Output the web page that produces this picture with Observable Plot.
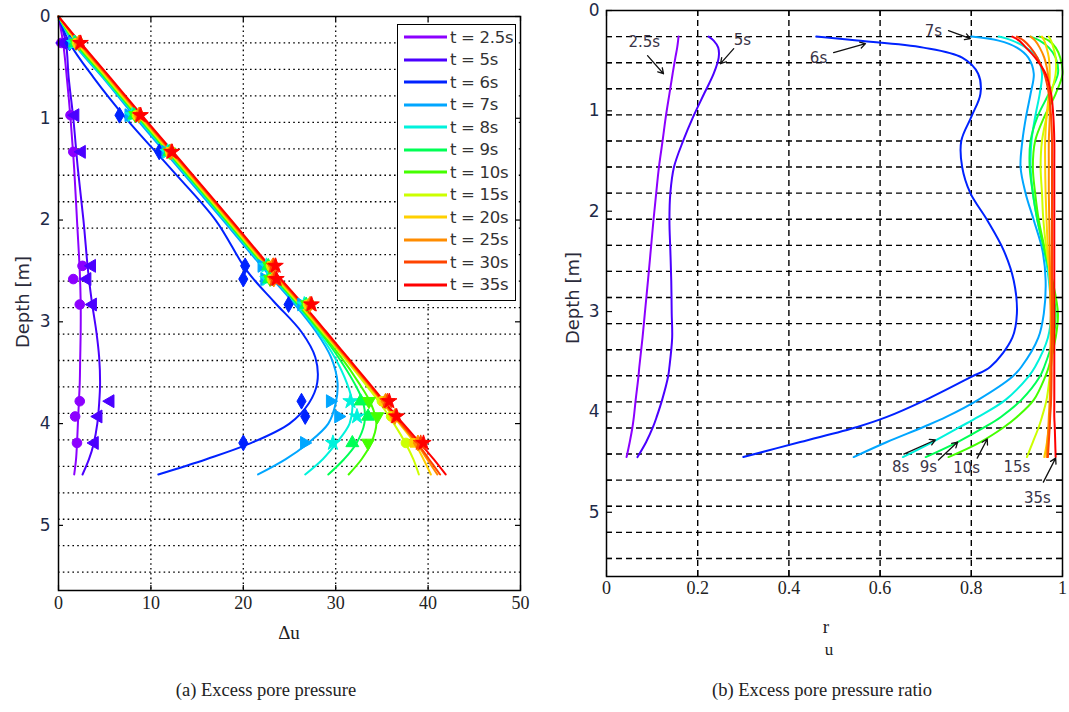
<!DOCTYPE html>
<html><head><meta charset="utf-8">
<script src="https://cdn.jsdelivr.net/npm/d3@7"></script>
<script src="https://cdn.jsdelivr.net/npm/@observablehq/plot@0.6"></script>
<style>
body{margin:0;background:#fff;}
#wrap{position:relative;width:1069px;height:712px;overflow:hidden;background:#fff;}
.abs{position:absolute;white-space:nowrap;}
.c{transform:translate(-50%,-50%);}
.rot{transform:translate(-50%,-50%) rotate(-90deg);}
.serif{font-family:"Liberation Serif",serif;color:#222;}
.sans{font-family:"DejaVu Sans",sans-serif;color:#2a2a3a;}
#legend{position:absolute;left:397px;top:24px;width:119px;height:277px;border:1.5px solid #000;background:#fff;box-sizing:border-box;padding-top:1px;}
#legend .row{height:22.5px;display:flex;align-items:center;font-family:"DejaVu Sans",sans-serif;font-size:16.5px;color:#333;letter-spacing:-0.3px;}
#legend svg{margin-left:6px;margin-right:3px;flex:none;}
</style></head><body><div id="wrap"></div>
<script>
// ---------- series ----------
const seriesNames = ["t = 2.5s","t = 5s","t = 6s","t = 7s","t = 8s","t = 9s","t = 10s","t = 15s","t = 20s","t = 25s","t = 30s","t = 35s"];
const seriesColors = ["#8c00ff","#4b00ff","#0022ff","#00a6ff","#00f2dc","#00ff55","#44ff00","#ccff00","#ffd000","#ff8c00","#ff4400","#ff0000"];
const seriesSymbols = ["circle","triangle","diamond","triangle","star","triangle","triangle","circle","square","diamond","star","star"];
const symbolRotate = [0,-90,0,90,0,0,180,0,0,0,0,0];

// ---------- panel (a): excess pore pressure du vs depth ----------
const duDepth = [0,0.26,0.6,1.0,1.5,2.0,2.5,2.8,3.1,3.35,3.6,3.8,4.0,4.2,4.35,4.5];
const du_2_5 = [0,0.5,0.9,1.3,1.7,2.0,2.3,2.4,2.4,2.35,2.3,2.2,2.1,2.0,1.9,1.7];
const du_5   = [0,0.8,1.1,1.6,2.1,2.7,3.2,3.6,4.1,4.4,4.5,4.4,4.2,3.8,3.3,2.6];
const du_6   = [0,1.2,3.8,7.3,12.2,17.0,20.4,23.3,26.3,27.8,28.0,27.1,25.0,20.6,16.0,10.8];
const du_7   = [0,1.6,4.8,8.4,13.1,17.8,22.4,25.3,27.9,29.5,30.2,30.0,29.2,26.9,24.6,21.6];
const du_8   = [0,1.7,4.9,8.6,13.3,18.0,22.6,25.5,28.1,29.9,31.2,31.8,31.5,30.0,28.6,26.7];
const du_9   = [0,1.8,5.0,8.7,13.4,18.1,22.7,25.6,28.3,30.3,32.0,33.0,33.1,32.2,30.9,29.2];
const du_10  = [0,1.9,5.1,8.8,13.5,18.2,22.8,25.7,28.4,30.6,32.5,33.8,34.4,33.8,32.8,31.4];
const du_15  = [0,2.0,5.2,8.9,13.6,18.3,22.9,25.8,28.6,30.9,33.1,34.8,36.3,37.6,38.4,39.0];
const du_20  = [0,2.1,5.3,9.0,13.7,18.4,23.0,25.9,28.7,31.0,33.3,35.1,36.9,38.6,39.5,40.3];
const du_25  = [0,2.2,5.4,9.1,13.8,18.5,23.1,26.0,28.8,31.1,33.4,35.2,37.0,38.8,39.9,41.0];
const du_30  = [0,2.3,5.5,9.2,13.9,18.6,23.2,26.1,28.9,31.2,33.5,35.3,37.1,38.9,40.1,41.3];
const du_35  = [0,2.4,5.6,9.3,14.0,18.7,23.3,26.2,29.0,31.3,33.6,35.4,37.3,39.2,40.6,41.9];
const duSeries = [du_2_5,du_5,du_6,du_7,du_8,du_9,du_10,du_15,du_20,du_25,du_30,du_35];

// measured points (sensor depths)
const sensorDepth = [0.26,0.97,1.33,2.45,2.58,2.83,3.78,3.93,4.19];
const mk_2_5 = [0.3,1.3,1.6,2.6,1.6,2.3,2.3,1.8,2.0];
const mk_5   = [0.5,1.8,2.5,3.6,3.1,3.7,5.6,4.3,3.9];
const mk_6   = [1.2,6.6,10.9,20.2,20.0,24.9,26.3,26.7,20.0];
const mk_7   = [1.5,7.6,11.6,22.0,22.3,26.3,29.4,30.3,26.6];
const mk_8   = [1.7,8.0,11.8,22.5,22.6,26.6,31.6,32.3,29.7];
const mk_9   = [1.8,8.2,12.0,22.7,22.8,26.8,32.7,33.5,31.8];
const mk_10  = [1.9,8.3,12.0,22.8,22.9,26.9,33.6,34.5,33.5];
const mk_15  = [2.0,8.5,12.1,23.0,23.1,27.0,35.0,36.0,37.6];
const mk_20  = [2.1,8.6,12.1,23.1,23.2,27.1,35.2,36.3,38.5];
const mk_25  = [2.2,8.7,12.2,23.2,23.3,27.2,35.4,36.4,38.9];
const mk_30  = [2.3,8.8,12.2,23.3,23.4,27.3,35.6,36.5,39.2];
const mk_35  = [2.4,8.9,12.3,23.5,23.6,27.4,35.8,36.6,39.5];
const mkSeries = [mk_2_5,mk_5,mk_6,mk_7,mk_8,mk_9,mk_10,mk_15,mk_20,mk_25,mk_30,mk_35];

// ---------- panel (b): excess pore pressure ratio ru vs depth ----------
const ruDepth = [0.26,0.3,0.37,0.47,0.63,0.83,1.06,1.3,1.56,1.82,2.09,2.39,2.69,3.02,3.26,3.55,3.65,3.88,4.05,4.15,4.3,4.45];
const ru_2_5 = [0.158,0.157,0.155,0.151,0.145,0.138,0.130,0.123,0.115,0.109,0.103,0.097,0.091,0.084,0.079,0.072,0.070,0.064,0.060,0.057,0.051,0.044];
const ru_5   = [0.224,0.235,0.245,0.246,0.235,0.214,0.190,0.168,0.148,0.140,0.138,0.140,0.142,0.143,0.144,0.138,0.135,0.122,0.110,0.102,0.087,0.068];
const ru_6   = [0.46,0.55,0.695,0.78,0.815,0.82,0.80,0.778,0.78,0.798,0.835,0.871,0.893,0.90,0.89,0.842,0.80,0.70,0.615,0.55,0.425,0.30];
const ru_7   = [0.80,0.86,0.90,0.925,0.937,0.93,0.92,0.912,0.908,0.919,0.937,0.956,0.963,0.959,0.947,0.91,0.89,0.815,0.745,0.695,0.615,0.542];
const ru_8   = [0.86,0.89,0.92,0.945,0.955,0.95,0.94,0.932,0.93,0.935,0.945,0.96,0.97,0.975,0.968,0.94,0.925,0.875,0.815,0.775,0.715,0.65];
const ru_9   = [0.93,0.95,0.97,0.985,0.99,0.97,0.945,0.93,0.928,0.935,0.945,0.96,0.975,0.985,0.98,0.96,0.95,0.91,0.865,0.83,0.77,0.70];
const ru_10  = [0.95,0.97,0.985,0.995,1.0,0.985,0.96,0.94,0.935,0.94,0.948,0.962,0.978,0.99,0.985,0.97,0.962,0.937,0.90,0.872,0.82,0.75];
const ru_15  = [0.97,0.975,0.98,0.985,0.985,0.975,0.965,0.955,0.952,0.955,0.958,0.965,0.975,0.982,0.98,0.975,0.972,0.965,0.955,0.948,0.935,0.922];
const ru_20  = [0.955,0.96,0.965,0.97,0.972,0.97,0.965,0.962,0.962,0.963,0.965,0.968,0.972,0.975,0.975,0.975,0.975,0.974,0.972,0.97,0.966,0.96];
const ru_25  = [0.93,0.94,0.95,0.96,0.968,0.972,0.972,0.97,0.97,0.97,0.971,0.972,0.973,0.974,0.974,0.973,0.973,0.972,0.97,0.969,0.967,0.965];
const ru_30  = [0.90,0.915,0.93,0.945,0.96,0.97,0.975,0.977,0.977,0.977,0.977,0.977,0.977,0.977,0.977,0.976,0.976,0.975,0.973,0.972,0.97,0.968];
const ru_35  = [0.89,0.905,0.92,0.94,0.963,0.975,0.98,0.982,0.982,0.982,0.982,0.982,0.982,0.982,0.982,0.982,0.982,0.982,0.982,0.983,0.984,0.985];
const ruSeries = [ru_2_5,ru_5,ru_6,ru_7,ru_8,ru_9,ru_10,ru_15,ru_20,ru_25,ru_30,ru_35];

// annotations on panel (b)
const annoText = ["2.5s","5s","6s","7s","8s","9s","10s","15s","35s"];
const annoR    = [0.083,0.298,0.465,0.717,0.645,0.706,0.79,0.90,0.945];
const annoD    = [0.32,0.30,0.48,0.21,4.55,4.55,4.56,4.55,4.86];
const arrowR1 = [0.09,0.279,0.498,0.75,0.652,0.728,0.813,0.958];
const arrowD1 = [0.45,0.38,0.42,0.20,4.42,4.48,4.46,4.70];
const arrowR2 = [0.125,0.25,0.568,0.798,0.721,0.77,0.835,0.985];
const arrowD2 = [0.63,0.53,0.33,0.28,4.28,4.30,4.27,4.46];

// axes / grids
const xTicksA = [0,10,20,30,40,50];
const xGridA = [10,20,30,40];
const xTicksB = [0,0.2,0.4,0.6,0.8,1];
const xGridB = [0.2,0.4,0.6,0.8];
const depthTicks = [0,1,2,3,4,5];
const depthGrid = [0.26,0.52,0.78,1.04,1.30,1.56,1.82,2.08,2.34,2.60,2.86,3.12,3.38,3.64,3.90,4.16,4.42,4.68,4.94,5.20,5.46];
const depthMax = 5.64;

// ---------- build tables ----------
const lineA = [], dotsA = [], lineB = [];
seriesNames.forEach((s,i)=>{
  duDepth.forEach((d,j)=>lineA.push({s, depth:d, v:duSeries[i][j]}));
  sensorDepth.forEach((d,j)=>dotsA.push({s, depth:d, v:mkSeries[i][j], rot:symbolRotate[i]}));
  ruDepth.forEach((d,j)=>lineB.push({s, depth:d, v:ruSeries[i][j]}));
});
const annos = annoText.map((t,i)=>({t, r:annoR[i], d:annoD[i]}));
const arrows = arrowR1.map((r,i)=>({r1:r, d1:arrowD1[i], r2:arrowR2[i], d2:arrowD2[i]}));

const wrap = document.getElementById("wrap");
const fmt = d => String(d);

// ---------- panel (a) ----------
const hA = 640, mtA = 16, mbA = 50, mlA = 58, mrA = 20, wA = 540;
const fhA = hA - mtA - mbA, fwA = wA - mlA - mrA;
const plotA = Plot.plot({
  width: wA, height: hA, marginLeft: mlA, marginRight: mrA, marginTop: mtA, marginBottom: mbA,
  style: {background: "transparent", fontFamily: "Liberation Serif, serif", fontSize: "18px", color: "#222"},
  x: {domain: [0, 50]},
  y: {domain: [0, depthMax], reverse: true},
  color: {domain: seriesNames, range: seriesColors},
  symbol: {domain: seriesNames, range: seriesSymbols},
  marks: [
    Plot.ruleX(xGridA, {stroke: "#000", strokeWidth: 1.3, strokeDasharray: "1.6,3.2"}),
    Plot.ruleY(depthGrid, {stroke: "#000", strokeWidth: 1.3, strokeDasharray: "1.6,3.2"}),
    Plot.line(lineA, {x: "v", y: "depth", z: "s", stroke: "s", strokeWidth: 2, curve: "catmull-rom"}),
    Plot.dot(dotsA, {x: "v", y: "depth", fill: "s", stroke: "s", symbol: "s", rotate: "rot", r: 4.8, strokeWidth: 1}),
    Plot.tickX(xTicksA, {insetTop: fhA - 5, stroke: "#000", strokeWidth: 1.2}),
    Plot.tickX(xTicksA, {insetBottom: fhA - 5, stroke: "#000", strokeWidth: 1.2}),
    Plot.tickY(depthTicks, {insetRight: fwA - 5, stroke: "#000", strokeWidth: 1.2}),
    Plot.tickY(depthTicks, {insetLeft: fwA - 5, stroke: "#000", strokeWidth: 1.2}),
    Plot.frame({stroke: "#000", strokeWidth: 1.5}),
    Plot.axisX({ticks: xTicksA, tickSize: 0, tickPadding: 6, label: null, fontSize: 18, fill: "#222", tickFormat: fmt}),
    Plot.axisY({ticks: depthTicks, tickSize: 0, tickPadding: 8, label: null, fontFamily: "DejaVu Sans, sans-serif", fontSize: 17, fill: "#1e2a48", tickFormat: fmt})
  ]
});
plotA.style.position = "absolute"; plotA.style.left = "0px"; plotA.style.top = "0px";
wrap.appendChild(plotA);

// ---------- panel (b) ----------
const offB = 540, wB = 1069 - offB, hB = 640, mtB = 10, mbB = 64, mlB = 66, mrB = 7;
const fhB = hB - mtB - mbB, fwB = wB - mlB - mrB;
const plotB = Plot.plot({
  width: wB, height: hB, marginLeft: mlB, marginRight: mrB, marginTop: mtB, marginBottom: mbB,
  style: {background: "transparent", fontFamily: "Liberation Serif, serif", fontSize: "18px", color: "#222"},
  x: {domain: [0, 1]},
  y: {domain: [0, depthMax], reverse: true},
  color: {domain: seriesNames, range: seriesColors},
  marks: [
    Plot.ruleX(xGridB, {stroke: "#000", strokeWidth: 1.4, strokeDasharray: "6,4"}),
    Plot.ruleY(depthGrid, {stroke: "#000", strokeWidth: 1.4, strokeDasharray: "6,4"}),
    Plot.line(lineB, {x: "v", y: "depth", z: "s", stroke: "s", strokeWidth: 2, curve: "catmull-rom"}),
    Plot.tickX(xTicksB, {insetTop: fhB - 6, stroke: "#000", strokeWidth: 1.2}),
    Plot.tickX(xTicksB, {insetBottom: fhB - 6, stroke: "#000", strokeWidth: 1.2}),
    Plot.tickY(depthTicks.concat(depthGrid), {insetRight: fwB - 6, stroke: "#000", strokeWidth: 1.2}),
    Plot.tickY(depthTicks.concat(depthGrid), {insetLeft: fwB - 6, stroke: "#000", strokeWidth: 1.2}),
    Plot.arrow(arrows, {x1: "r1", y1: "d1", x2: "r2", y2: "d2", stroke: "#111", strokeWidth: 1.3, headLength: 7}),
    Plot.text(annos, {x: "r", y: "d", text: "t", fontFamily: "DejaVu Sans, sans-serif", fontSize: 15, fill: "#3a3548"}),
    Plot.frame({stroke: "#000", strokeWidth: 1.5}),
    Plot.axisX({ticks: xTicksB, tickSize: 0, tickPadding: 5, label: null, fontSize: 18, fill: "#222", tickFormat: fmt}),
    Plot.axisY({ticks: depthTicks, tickSize: 0, tickPadding: 7, label: null, fontFamily: "DejaVu Sans, sans-serif", fontSize: 17, fill: "#1e2a48", tickFormat: fmt})
  ]
});
plotB.style.position = "absolute"; plotB.style.left = offB + "px"; plotB.style.top = "0px";
wrap.appendChild(plotB);

// ---------- legend ----------
const legend = document.createElement("div");
legend.id = "legend";
seriesNames.forEach((s,i)=>{
  const row = document.createElement("div");
  row.className = "row";
  row.innerHTML = `<svg width="43" height="6"><line x1="0" y1="3" x2="43" y2="3" stroke="${seriesColors[i]}" stroke-width="3"/></svg><span>${s}</span>`;
  legend.appendChild(row);
});
wrap.appendChild(legend);

// ---------- labels ----------
function label(text, x, y, cls, size) {
  const el = document.createElement("div");
  el.className = "abs " + cls;
  el.style.left = x + "px"; el.style.top = y + "px"; el.style.fontSize = size + "px";
  el.textContent = text;
  wrap.appendChild(el);
}
label("Depth [m]", 22, 302, "rot sans", 18);
label("Depth [m]", 572, 298, "rot sans", 18);
label("Δu", 289, 633, "c serif", 19);
label("r", 826, 627, "c serif", 19);
label("u", 829, 650, "c serif", 17);
label("(a) Excess pore pressure", 266, 690, "c serif", 18.5);
label("(b) Excess pore pressure ratio", 822, 690, "c serif", 18.5);
</script></body></html>
